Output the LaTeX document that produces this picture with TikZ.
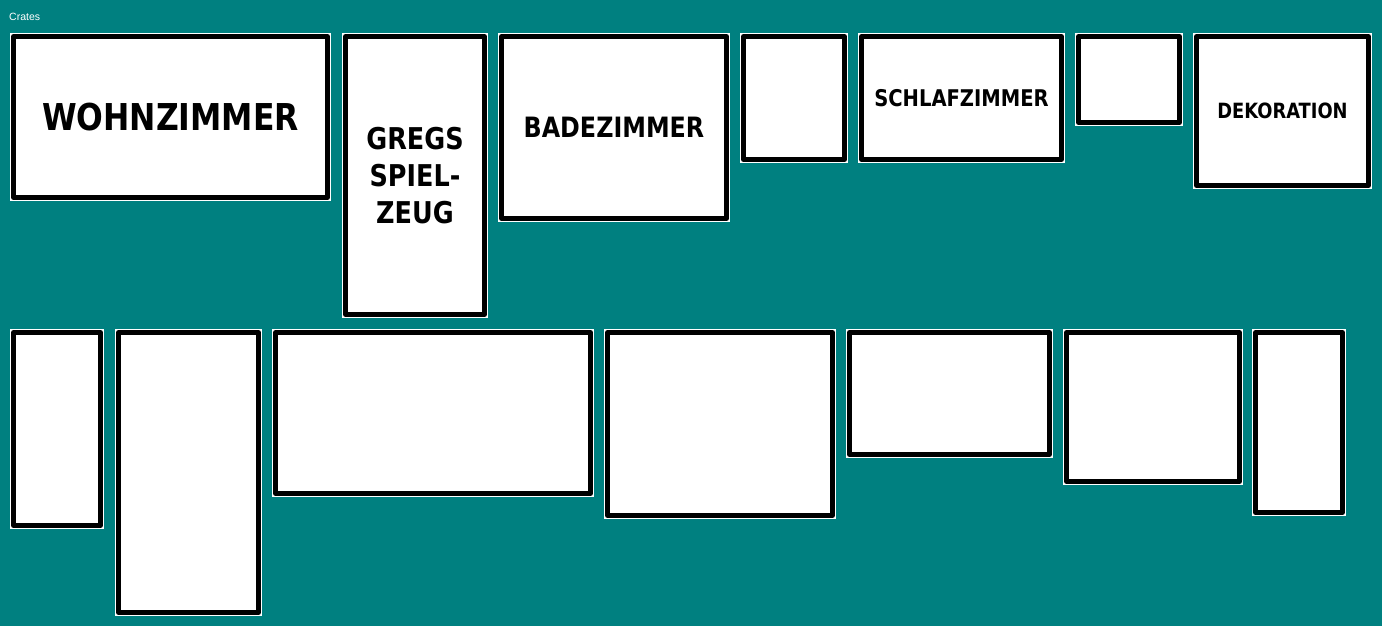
\documentclass[tikz,border=0pt]{standalone}
\usepackage{fontspec}
\newfontfamily\cratefont{DejaVu Sans}[FakeStretch=0.85]
\newfontfamily\titlefont{Liberation Sans}
\definecolor{crateteal}{RGB}{0,128,128}

\begin{document}
\begin{tikzpicture}[x=1pt, y=-1pt,
  crate/.style={fill=white, draw=black, line width=5pt, line join=round,
    preaction={draw=white, line width=7pt, line join=miter}, inner sep=0pt,
    align=center, font=\cratefont\bfseries}]
  % background
  \fill[crateteal] (0,0) rectangle (1382,626);
  \node[anchor=west, inner sep=0pt, text=white,
    font=\titlefont\fontsize{10.5}{12}\selectfont] (title) at (9,17) {Crates};
  % top row
  \node[crate, minimum width=314pt, minimum height=161pt,
    font=\cratefont\bfseries\fontsize{37}{44}\selectfont]
    (wohnzimmer) at (170.5,117) {WOHNZIMMER};
  \node[crate, minimum width=139pt, minimum height=278pt,
    font=\cratefont\bfseries\fontsize{30}{37}\selectfont]
    (gregs) at (415,175.5) {GREGS\\SPIEL-\\ZEUG};
  \node[crate, minimum width=225pt, minimum height=182pt,
    font=\cratefont\bfseries\fontsize{28}{34}\selectfont]
    (badezimmer) at (614,127.5) {BADEZIMMER};
  \node[crate, minimum width=101pt, minimum height=123pt]
    (crateD) at (794,98) {};
  \node[crate, minimum width=200pt, minimum height=123pt,
    font=\cratefont\bfseries\fontsize{23}{28}\selectfont]
    (schlafzimmer) at (961.5,98) {SCHLAFZIMMER};
  \node[crate, minimum width=101pt, minimum height=86pt]
    (crateF) at (1129,79.5) {};
  \node[crate, minimum width=172pt, minimum height=149pt,
    font=\cratefont\bfseries\fontsize{21}{26}\selectfont]
    (dekoration) at (1282.5,111) {DEKORATION};
  % bottom row
  \node[crate, minimum width=87pt, minimum height=193pt]
    (crateH) at (57,429) {};
  \node[crate, minimum width=140pt, minimum height=280pt]
    (crateI) at (188.5,472.5) {};
  \node[crate, minimum width=315pt, minimum height=161pt]
    (crateJ) at (433,413) {};
  \node[crate, minimum width=225pt, minimum height=183pt]
    (crateK) at (720,424) {};
  \node[crate, minimum width=200pt, minimum height=122pt]
    (crateL) at (949.5,393.5) {};
  \node[crate, minimum width=173pt, minimum height=149pt]
    (crateM) at (1153,407) {};
  \node[crate, minimum width=87pt, minimum height=180pt]
    (crateN) at (1299,422.5) {};
\end{tikzpicture}
\end{document}
